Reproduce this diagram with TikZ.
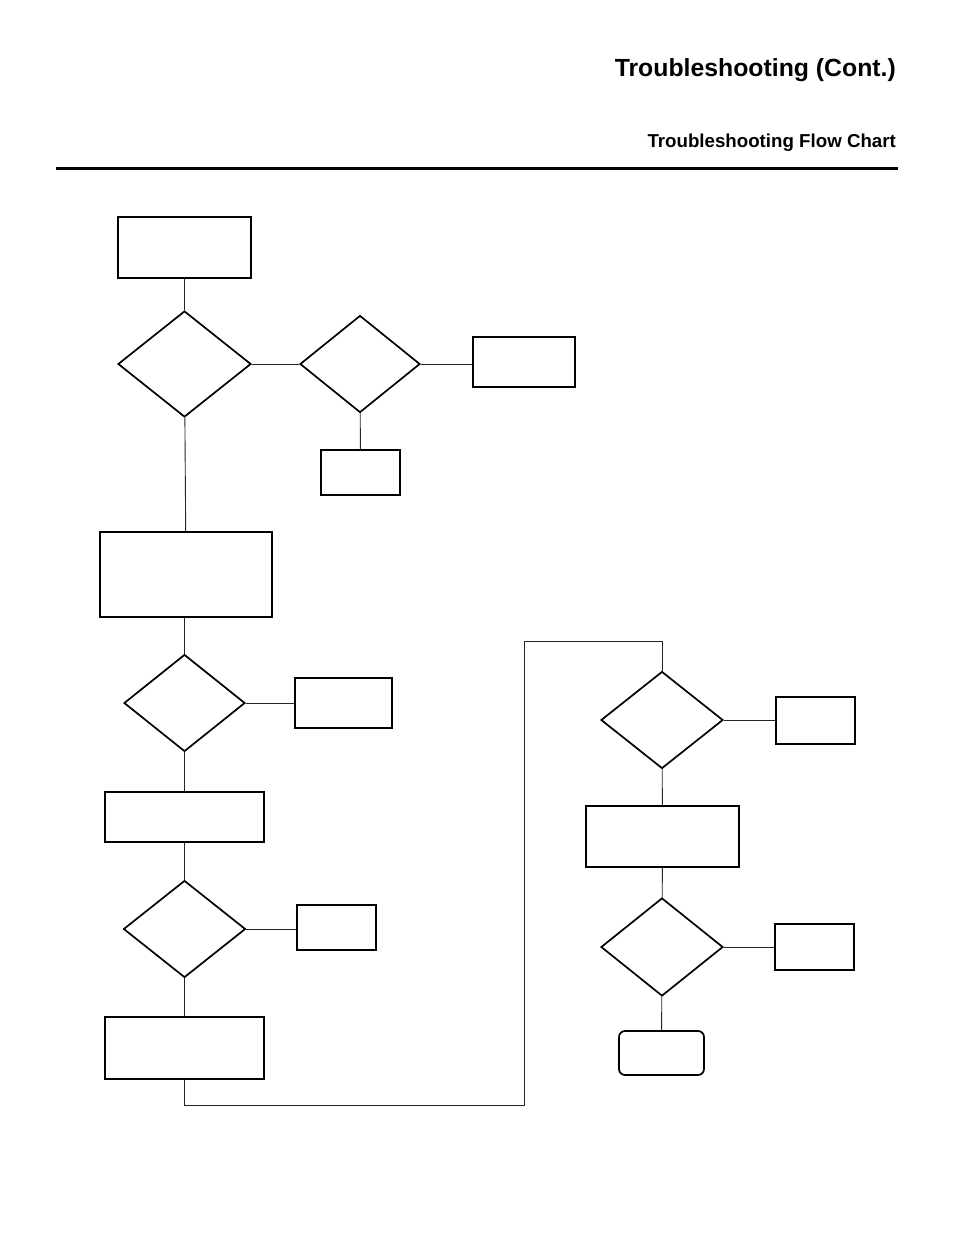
\documentclass[tikz,border=0pt]{standalone}
\usepackage{fontspec}
\setmainfont{Liberation Sans}
\usetikzlibrary{shapes.geometric}
\tikzset{
    stepbox/.style={draw, line width=1.7pt, inner sep=0pt},
    decision/.style={draw, diamond, line width=1.7pt, inner sep=0pt},
    endbox/.style={draw, rounded corners=6pt, line width=1.7pt, inner sep=0pt},
    link/.style={line width=0.9pt, black!85}
}
\begin{document}
\begin{tikzpicture}[x=1pt, y=-1pt]
    \useasboundingbox (0,0) rectangle (954,1235);

    % Header
    \node[anchor=base east, inner sep=0pt, font=\bfseries\fontsize{24.8}{28}\selectfont] (title) at (896,76) {Troubleshooting (Cont.)};
    \node[anchor=base east, inner sep=0pt, font=\bfseries\fontsize{18.7}{22}\selectfont] (subtitle) at (896,147) {Troubleshooting Flow Chart};
    \draw[line width=3pt] (56,168) -- (898,168);

    % Left column
    \node[stepbox, minimum width=133, minimum height=61] (a) at (184.5,247.5) {};
    \node[decision, minimum width=133, minimum height=106] (d1) at (184.5,364) {};
    \node[decision, minimum width=120, minimum height=97] (d2) at (360,364) {};
    \node[stepbox, minimum width=102, minimum height=50] (b) at (524,362) {};
    \node[stepbox, minimum width=79, minimum height=45] (c) at (360.5,472.5) {};
    \node[stepbox, minimum width=172, minimum height=85] (e) at (186,574.5) {};
    \node[decision, minimum width=121, minimum height=97] (d3) at (184.5,703) {};
    \node[stepbox, minimum width=97, minimum height=50] (f) at (343.5,703) {};
    \node[stepbox, minimum width=159, minimum height=50] (g) at (184.5,817) {};
    \node[decision, minimum width=122, minimum height=97] (d4) at (184.5,929) {};
    \node[stepbox, minimum width=79, minimum height=45] (h) at (336.5,927.5) {};
    \node[stepbox, minimum width=159, minimum height=62] (i) at (184.5,1048) {};

    % Right column
    \node[decision, minimum width=122, minimum height=97] (d5) at (662,720) {};
    \node[stepbox, minimum width=79, minimum height=47] (j) at (815.5,720.5) {};
    \node[stepbox, minimum width=153, minimum height=61] (k) at (662.5,836.5) {};
    \node[decision, minimum width=122, minimum height=98] (d6) at (662,947) {};
    \node[stepbox, minimum width=79, minimum height=46] (l) at (814.5,947) {};
    \node[endbox, minimum width=85, minimum height=44] (m) at (661.5,1053) {};

    \coordinate (c1) at (524,1105);
    \coordinate (c2) at (524,641);

    % Connectors
    \draw[link] (a) -- (d1);
    \draw[link] (d1.east) -- (d2.west);
    \draw[link] (d2.east) -- (b.west |- d2.east);
    \draw[link] (d2) -- (c);
    \draw[link] (d1) -- (e);
    \draw[link] (e.south -| d3.north) -- (d3.north);
    \draw[link] (d3.east) -- (f.west |- d3.east);
    \draw[link] (d3) -- (g);
    \draw[link] (g) -- (d4);
    \draw[link] (d4.east) -- (h.west |- d4.east);
    \draw[link] (d4) -- (i);
    \draw[link] (i.south) |- (c1) -- (c2) -| (d5.north);
    \draw[link] (d5.east) -- (j.west |- d5.east);
    \draw[link] (d5) -- (k);
    \draw[link] (k) -- (d6);
    \draw[link] (d6.east) -- (l.west |- d6.east);
    \draw[link] (d6) -- (m);
\end{tikzpicture}
\end{document}
